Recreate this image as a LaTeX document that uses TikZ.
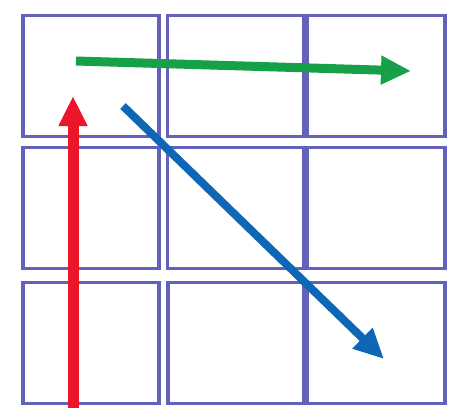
\documentclass[tikz,border=0pt]{standalone}
\usetikzlibrary{arrows.meta}
\definecolor{gridblue}{RGB}{98,98,188}
\definecolor{movegreen}{RGB}{22,160,72}
\definecolor{movered}{RGB}{236,22,42}
\definecolor{moveblue}{RGB}{14,102,182}
\begin{document}
\begin{tikzpicture}[x=1pt, y=-1pt,
  cell/.style={draw=gridblue, line width=3.2pt, inner sep=0pt,
    minimum width=136pt, minimum height=121pt},
  move/.style={line width=9pt, -{Triangle[length=30pt,width=27pt]}}]
  \useasboundingbox[fill=white] (0,0) rectangle (455,408);
  % top row
  \node[cell] (c11) at (91,76) {};
  \node[cell] (c12) at (235.5,76) {};
  \node[cell, minimum width=138pt] (c13) at (376,76) {};
  % middle row
  \node[cell] (c21) at (91,208) {};
  \node[cell] (c22) at (235.5,208) {};
  \node[cell, minimum width=138pt] (c23) at (376,208) {};
  % bottom row
  \node[cell] (c31) at (91,343) {};
  \node[cell] (c32) at (236,343) {};
  \node[cell, minimum width=138pt] (c33) at (376,343) {};
  % arrow ends
  \coordinate (g0) at (76,61);
  \coordinate (g1) at (411,71);
  \coordinate (r0) at (73,408);
  \coordinate (r1) at (73,96);
  \coordinate (b0) at (123,106);
  \coordinate (b1) at (384,359);
  \draw[move, movegreen] (g0) -- (g1);
  \draw[move, movered, line width=11pt] (r0) -- (r1);
  \draw[move, moveblue, line width=8pt] (b0) -- (b1);
\end{tikzpicture}
\end{document}
